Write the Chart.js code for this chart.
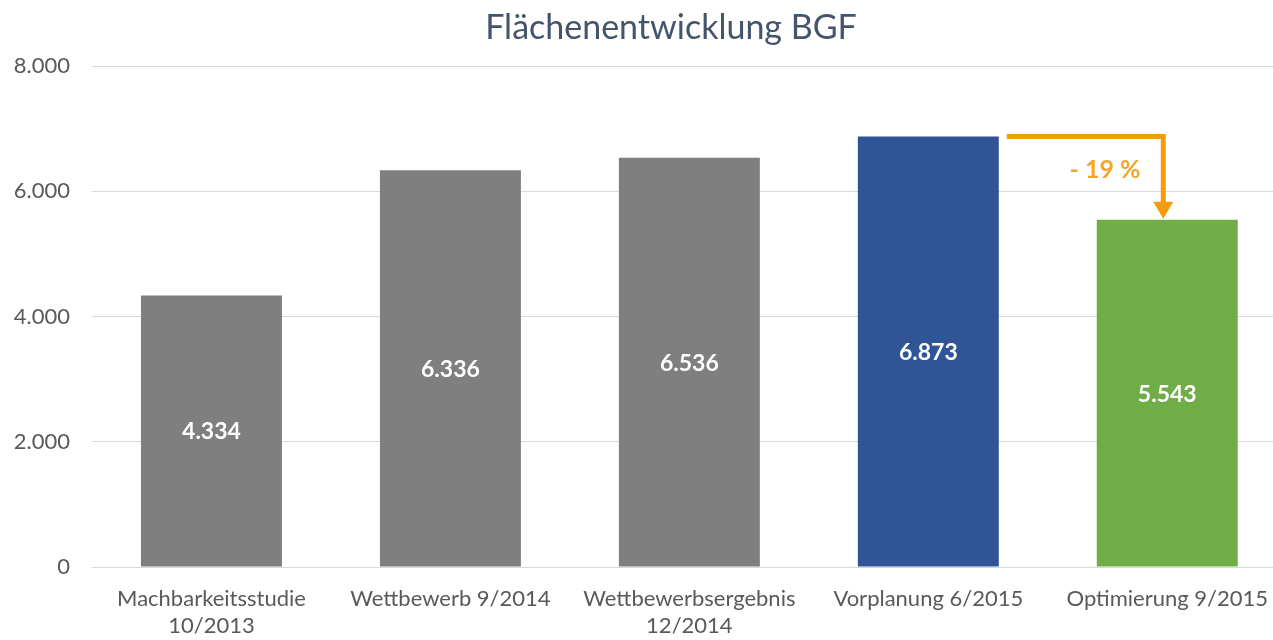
<!DOCTYPE html>
<html><head><meta charset="utf-8">
<script src="https://cdn.jsdelivr.net/npm/chart.js@4"></script>
<style>html,body{margin:0;padding:0;overflow:hidden;background:#fff}#wrap{width:1287px;height:640px;position:relative}</style>
</head><body><div id="wrap"><canvas id="c"></canvas></div>
<script>
const categories = [["Machbarkeitsstudie","10/2013"],"Wettbewerb 9/2014",["Wettbewerbsergebnis","12/2014"],"Vorplanung 6/2015","Optimierung 9/2015"];
const values = [4334, 6336, 6536, 6873, 5543];
const barColors = ["#7F7F7F","#7F7F7F","#7F7F7F","#2F5597","#70AD47"];
const yTicks = [0, 2000, 4000, 6000, 8000];
const titleText = "Flächenentwicklung BGF";
const changeLabel = "- 19 %";
const FONT = "Lato, 'Open Sans', sans-serif";

function fmt(v){ return String(Math.round(v)).replace(/\B(?=(\d{3})+(?!\d))/g, "."); }

const overlay = {
  id: 'overlay',
  afterDatasetsDraw(chart){
    const ctx = chart.ctx;
    const meta = chart.getDatasetMeta(0);
    const y = chart.scales.y;
    ctx.save();
    // value labels
    ctx.fillStyle = '#ffffff';
    ctx.font = 'bold 23px ' + FONT;
    ctx.textAlign = 'center'; ctx.textBaseline = 'middle';
    meta.data.forEach((bar, i) => {
      const mid = (bar.y + bar.base) / 2;
      ctx.fillText(fmt(values[i]), bar.x, mid + 1);
    });
    // arrow from bar 4 to bar 5
    const b4 = meta.data[3], b5 = meta.data[4];
    const yTop = y.getPixelForValue(values[3]);
    const yEnd = y.getPixelForValue(values[4]);
    const x0 = b4.x + b4.width/2 + 8;
    const x1 = b5.x - 4;
    ctx.strokeStyle = '#F59B0C'; ctx.fillStyle = '#F59B0C';
    ctx.lineWidth = 5; ctx.lineJoin = 'miter';
    ctx.beginPath();
    ctx.moveTo(x0, yTop); ctx.lineTo(x1, yTop); ctx.lineTo(x1, yEnd - 16);
    ctx.stroke();
    ctx.beginPath();
    ctx.moveTo(x1 - 10, yEnd - 18); ctx.lineTo(x1 + 10, yEnd - 18); ctx.lineTo(x1, yEnd - 1);
    ctx.closePath(); ctx.fill();
    // change label
    ctx.fillStyle = '#F5A52A';
    ctx.font = 'bold 25px ' + FONT;
    ctx.fillText(changeLabel, (x0 + x1)/2 + 20, (yTop + yEnd)/2 - 8);
    // title
    ctx.fillStyle = '#44546A';
    ctx.font = '34px ' + FONT;
    ctx.fillText(titleText, 671, 28);
    ctx.restore();
  }
};

new Chart(document.getElementById('c'), {
  type: 'bar',
  data: { labels: categories, datasets: [{ data: values, backgroundColor: barColors, categoryPercentage: 1, barPercentage: 0.59 }] },
  options: {
    responsive: true, maintainAspectRatio: false, animation: false,
    layout: { padding: { top: 66, left: 0, right: 0, bottom: 0 } },
    plugins: { legend: { display: false }, title: { display: false }, tooltip: { enabled: false } },
    scales: {
      x: {
        grid: { display: false, drawTicks: false },
        border: { display: false },
        ticks: { color: '#595959', font: { family: FONT, size: 22, lineHeight: 1.2 }, padding: 19, maxRotation: 0, autoSkip: false },
        afterFit(s){ s.height = 73; }
      },
      y: {
        min: 0, max: 8000,
        afterBuildTicks(s){ s.ticks = yTicks.map(v => ({ value: v })); },
        grid: { color: '#D9D9D9', lineWidth: 1, drawTicks: false },
        border: { display: false },
        ticks: { color: '#595959', font: { family: FONT, size: 22 }, padding: 22, callback: v => fmt(v) },
        afterFit(s){ s.width = 92; }
      }
    }
  },
  plugins: [overlay]
});
</script></body></html>
